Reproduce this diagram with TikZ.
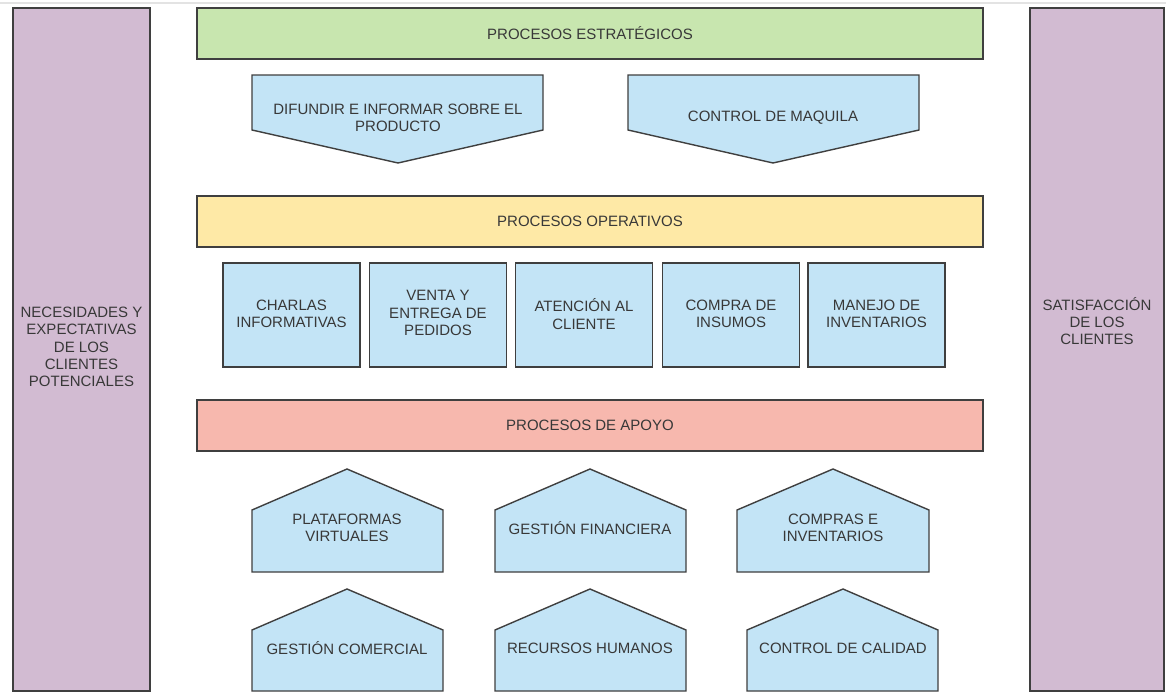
\documentclass[tikz,border=0pt]{standalone}
\usepackage{fontspec}
\setmainfont{Liberation Sans}
\definecolor{edge}{HTML}{3F3F3F}
\definecolor{txt}{HTML}{383838}
\definecolor{lilac}{HTML}{D2BBD2}
\definecolor{mint}{HTML}{C8E6AF}
\definecolor{sand}{HTML}{FEE9A6}
\definecolor{salmon}{HTML}{F7B8AE}
\definecolor{sky}{HTML}{C3E4F6}
\begin{document}
\begin{tikzpicture}[x=1pt,y=-1pt,
  every node/.style={font=\fontsize{15}{17.3}\selectfont, text=txt, align=center, inner sep=0pt},
  frame/.style={draw=edge, line width=1.4pt},
  side/.style={frame, fill=lilac, minimum width=137pt, minimum height=683pt},
  band/.style={frame, minimum width=786pt, minimum height=51pt},
  task/.style={frame, fill=sky, minimum width=137pt, minimum height=104pt},
  skyshape/.style={frame, fill=sky}]
\useasboundingbox (0,0) rectangle (1166,693);
\fill[white] (0,0) rectangle (1166,693);
\draw[gray!22, line width=1.5pt] (0,3) -- (1166,3);

% side columns: inputs and outcome
\node[side] (necesidades) at (81.5,349.5) {};
\node (necesidadestxt) at (81.5,347) {NECESIDADES Y\\EXPECTATIVAS\\DE LOS\\CLIENTES\\POTENCIALES};
\node[side, minimum width=134pt] (satisfaccion) at (1097,349.5) {};
\node (satisfacciontxt) at (1097,321) {SATISFACCIÓN\\DE LOS\\CLIENTES};

% process bands
\node[band, fill=mint] (estrategicos) at (590,33.5) {PROCESOS ESTRATÉGICOS};
\node[band, fill=sand] (operativos) at (590,221.5) {PROCESOS OPERATIVOS};
\node[band, fill=salmon] (apoyo) at (590,425.5) {PROCESOS DE APOYO};

% strategic processes (downward pentagons)
\draw[skyshape] (252,75) -- (543,75) -- (543,130) -- (398,163) -- (252,130) -- cycle;
\node (difundir) at (398,118) {DIFUNDIR E INFORMAR SOBRE EL\\PRODUCTO};
\draw[skyshape] (628,75) -- (919,75) -- (919,130) -- (773,163) -- (628,130) -- cycle;
\node (maquila) at (773,118) {CONTROL DE MAQUILA};

% operative processes
\node[task] (charlas) at (291.5,315) {};
\node at (291.5,314) {CHARLAS\\INFORMATIVAS};
\node[task] (venta) at (438,315) {};
\node at (438,313) {VENTA Y\\ENTREGA DE\\PEDIDOS};
\node[task] (atencion) at (584,315) {};
\node at (584,314) {ATENCIÓN AL\\CLIENTE};
\node[task] (insumos) at (731,315) {};
\node at (731,314) {COMPRA DE\\INSUMOS};
\node[task] (inventarios) at (876.5,315) {};
\node at (876.5,314) {MANEJO DE\\INVENTARIOS};

% support processes (house shapes)
\draw[skyshape] (252,572) -- (252,510) -- (347,469) -- (443,510) -- (443,572) -- cycle;
\node (plataformas) at (347,528) {PLATAFORMAS\\VIRTUALES};
\draw[skyshape] (495,572) -- (495,510) -- (590,469) -- (686,510) -- (686,572) -- cycle;
\node (financiera) at (590,528) {GESTIÓN FINANCIERA};
\draw[skyshape] (737,572) -- (737,510) -- (833,469) -- (929,510) -- (929,572) -- cycle;
\node (compras) at (833,528) {COMPRAS E\\INVENTARIOS};
\draw[skyshape] (252,691) -- (252,630) -- (347,589) -- (443,630) -- (443,691) -- cycle;
\node (comercial) at (347,648) {GESTIÓN COMERCIAL};
\draw[skyshape] (495,691) -- (495,630) -- (590,589) -- (686,630) -- (686,691) -- cycle;
\node (humanos) at (590,648) {RECURSOS HUMANOS};
\draw[skyshape] (747,691) -- (747,630) -- (843,589) -- (938,630) -- (938,691) -- cycle;
\node (calidad) at (843,648) {CONTROL DE CALIDAD};
\end{tikzpicture}
\end{document}
